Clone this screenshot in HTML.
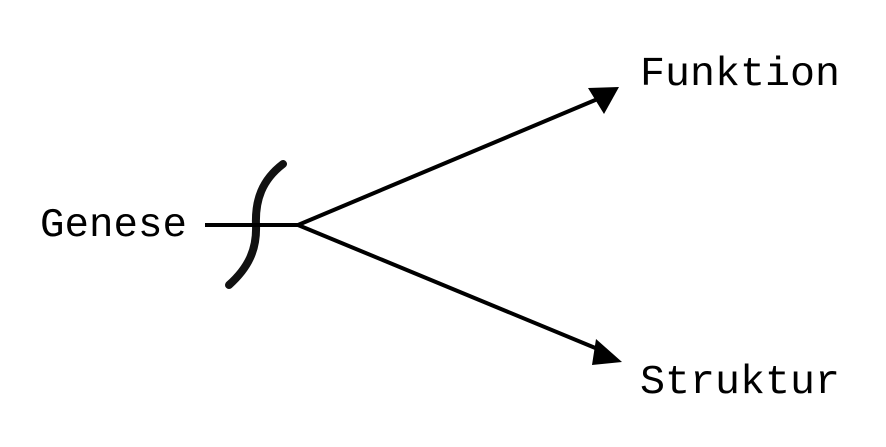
<!DOCTYPE html>
<html><head><style>
html,body{margin:0;padding:0;background:#fff;width:886px;height:447px;overflow:hidden}
text{font-family:"Liberation Mono",monospace;font-size:41px;fill:#000}
</style></head><body>
<svg width="886" height="447" viewBox="0 0 886 447" xmlns="http://www.w3.org/2000/svg">
<text x="640" y="85" textLength="200" lengthAdjust="spacingAndGlyphs">Funktion</text>
<text x="640" y="393" textLength="200" lengthAdjust="spacingAndGlyphs">Struktur</text>
<text x="40" y="236" textLength="147" lengthAdjust="spacingAndGlyphs">Genese</text>
<path d="M283 164 C 262 180, 255 200, 256 225 C 257 250, 248 268, 229 285" fill="none" stroke="#111" stroke-width="8" stroke-linecap="round"/>
<line x1="205" y1="225" x2="298" y2="225" stroke="#000" stroke-width="4"/>
<line x1="298" y1="225" x2="600" y2="98" stroke="#000" stroke-width="4"/>
<line x1="298" y1="225" x2="605" y2="352" stroke="#000" stroke-width="4"/>
<polygon points="619,87 588,88 604,114" fill="#000"/>
<polygon points="622,362 596,339 592,365" fill="#000"/>
</svg>
</body></html>
